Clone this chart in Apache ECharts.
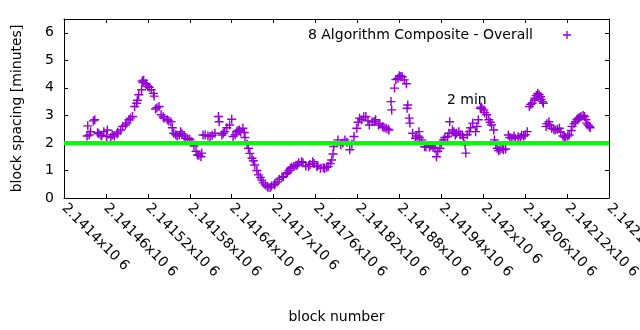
<!DOCTYPE html>
<html>
<head>
<meta charset="utf-8">
<script src="https://cdn.jsdelivr.net/npm/echarts@6/dist/echarts.min.js"></script>
<style>
  html, body { margin: 0; padding: 0; background: #fff; }
  #chart { width: 640px; height: 330px; }
</style>
</head>
<body>
<div id="chart"></div>
<script>
// Block heights and the composite block spacing (minutes) measured at each.
const blocks = [
  2141434, 2141436, 2141438, 2141442, 2141444, 2141450, 2141453, 2141457, 2141461, 2141462,
  2141467, 2141472, 2141476, 2141481, 2141484, 2141488, 2141493, 2141498, 2141501, 2141504,
  2141507, 2141511, 2141512, 2141513, 2141514, 2141517, 2141518, 2141520, 2141522, 2141525,
  2141528, 2141531, 2141536, 2141539, 2141543, 2141548, 2141553, 2141557, 2141562, 2141567,
  2141569, 2141574, 2141580, 2141586, 2141591, 2141596, 2141597, 2141599, 2141602, 2141609,
  2141616, 2141621, 2141622, 2141626, 2141630, 2141637, 2141640, 2141642, 2141647, 2141651,
  2141656, 2141659, 2141664, 2141669, 2141673, 2141678, 2141683, 2141685, 2141688, 2141692,
  2141695, 2141697, 2141702, 2141705, 2141708, 2141714, 2141720, 2141724, 2141729, 2141734,
  2141740, 2141746, 2141750, 2141756, 2141762, 2141767, 2141773, 2141778, 2141783, 2141786,
  2141792, 2141796, 2141802, 2141809, 2141815, 2141819, 2141823, 2141826, 2141832, 2141837,
  2141841, 2141846, 2141850, 2141856, 2141861, 2141865, 2141868, 2141869, 2141873, 2141875,
  2141878, 2141880, 2141882, 2141884, 2141887, 2141890, 2141891, 2141892, 2141895, 2141899,
  2141903, 2141908, 2141912, 2141916, 2141923, 2141928, 2141933, 2141938, 2141943, 2141949,
  2141952, 2141956, 2141960, 2141965, 2141970, 2141974, 2141975, 2141980, 2141985, 2141989,
  2141993, 2141996, 2141997, 2142001, 2142005, 2142008, 2142012, 2142015, 2142016, 2142020,
  2142024, 2142029, 2142036, 2142041, 2142046, 2142053, 2142058, 2142063, 2142066, 2142070,
  2142074, 2142076, 2142078, 2142082, 2142083, 2142086, 2142090, 2142094, 2142098, 2142103,
  2142109, 2142114, 2142118, 2142123, 2142127, 2142132, 2142136, 2142140, 2142145, 2142148,
  2142152,
  // in-between blocks
  2141433, 2141448, 2141454, 2141469, 2141477, 2141490, 2141495, 2141505, 2141529, 2141533,
  2141542, 2141550, 2141555, 2141560, 2141565, 2141572, 2141577, 2141583, 2141589, 2141593,
  2141606, 2141612, 2141628, 2141633, 2141645, 2141649, 2141653, 2141658, 2141662, 2141666,
  2141671, 2141676, 2141681, 2141691, 2141701, 2141712, 2141718, 2141722, 2141726, 2141732,
  2141736, 2141742, 2141752, 2141758, 2141763, 2141771, 2141776, 2141781, 2141785, 2141799,
  2141805, 2141812, 2141821, 2141829, 2141835, 2141844, 2141852, 2141858, 2141864, 2141894,
  2141905, 2141909, 2141918, 2141925, 2141931, 2141935, 2141940, 2141945, 2141951, 2141958,
  2141962, 2141967, 2141972, 2141977, 2141982, 2141991, 2141998, 2142002, 2142010, 2142018,
  2142022, 2142027, 2142032, 2142038, 2142044, 2142050, 2142055, 2142060, 2142068, 2142073,
  2142080, 2142085, 2142091, 2142095, 2142101, 2142106, 2142111, 2142116, 2142121, 2142126,
  2142130, 2142134, 2142138, 2142143, 2142147, 2142150, 2142153
];
const spacing = [
  2.62, 2.29, 2.41, 2.80, 2.84, 2.33, 2.28, 2.41, 2.23, 2.47,
  2.20, 2.25, 2.33, 2.47, 2.60, 2.65, 2.84, 2.96, 3.32, 3.44,
  3.75, 3.93, 4.25, 4.19, 4.28, 4.15, 4.12, 4.05, 4.02, 3.93,
  3.80, 3.23, 3.32, 3.02, 2.90, 2.84, 2.77, 2.35, 2.25, 2.41,
  2.33, 2.17, 2.13, 1.89, 1.56, 1.50, 1.63, 2.29, 2.29, 2.23,
  2.35, 2.96, 2.77, 2.29, 2.41, 2.65, 2.86, 2.23, 2.41, 2.47,
  2.53, 2.20, 1.81, 1.44, 1.20, 0.84, 0.65, 0.55, 0.47, 0.39,
  0.38, 0.44, 0.51, 0.58, 0.68, 0.78, 0.92, 1.08, 1.14, 1.20,
  1.32, 1.16, 1.14, 1.32, 1.14, 1.08, 1.08, 1.14, 1.38, 1.87,
  2.11, 1.93, 2.11, 1.75, 2.23, 2.53, 2.90, 2.84, 2.96, 2.65,
  2.77, 2.84, 2.65, 2.60, 2.53, 2.47, 3.50, 3.20, 3.99, 4.30,
  4.35, 4.44, 4.41, 4.40, 4.29, 4.15, 3.26, 3.38, 2.72, 2.35,
  2.17, 2.41, 2.11, 1.87, 1.84, 1.84, 1.50, 1.81, 2.11, 2.23,
  2.77, 2.47, 2.29, 2.41, 2.29, 1.93, 1.63, 2.41, 2.72, 2.41,
  2.84, 3.26, 3.30, 3.20, 3.02, 2.84, 2.65, 2.47, 2.11, 1.81,
  1.75, 1.75, 2.29, 2.17, 2.17, 2.20, 2.25, 2.41, 3.32, 3.44,
  3.62, 3.72, 3.80, 3.68, 3.58, 3.44, 2.60, 2.77, 2.53, 2.47,
  2.53, 2.25, 2.20, 2.29, 2.60, 2.77, 2.90, 2.96, 2.96, 2.72,
  2.60,
  // in-between blocks
  2.25, 2.37, 2.26, 2.30, 2.40, 2.72, 2.90, 3.55, 3.70, 3.28,
  2.95, 2.80, 2.55, 2.30, 2.28, 2.25, 2.15, 2.05, 1.70, 1.55,
  2.25, 2.28, 2.35, 2.55, 2.30, 2.45, 2.40, 2.38, 1.95, 1.62,
  1.35, 1.00, 0.75, 0.42, 0.48, 0.75, 0.88, 1.00, 1.12, 1.18,
  1.28, 1.28, 1.22, 1.25, 1.18, 1.10, 1.12, 1.25, 1.60, 2.00,
  2.02, 1.95, 2.75, 2.95, 2.80, 2.78, 2.70, 2.55, 2.50, 2.90,
  2.25, 2.20, 1.85, 1.90, 1.80, 1.70, 2.00, 2.20, 2.35, 2.40,
  2.35, 2.30, 2.20, 2.30, 2.55, 2.60, 3.25, 3.10, 2.75, 1.95,
  1.72, 1.80, 1.78, 2.20, 2.25, 2.22, 2.28, 2.30, 3.40, 3.55,
  3.75, 3.50, 2.70, 2.65, 2.50, 2.50, 2.40, 2.22, 2.25, 2.45,
  2.70, 2.85, 2.92, 3.00, 2.85, 2.65, 2.55
];

// Axis ranges and reference level
const xRange = [2141400, 2142180];
const xStep = 60;
const yRange = [0, 6.5];
const targetMinutes = 2;
const targetLabel = '2 min';
const targetLabelAt = [2141948, 3.53];
const seriesName = '8 Algorithm Composite - Overall';

const FONT = 'DejaVu Sans';
const PURPLE = '#9400d3';
const PLUS = 'path://M4.2,0h1.6v4.2h4.2v1.6h-4.2v4.2h-1.6v-4.2h-4.2v-1.6h4.2z';

const points = blocks.map((b, i) => [b, spacing[i]]);

function blockLabel(v) {
  return parseFloat((v / 1e6).toFixed(6)) + 'x10 6';
}

const chart = echarts.init(document.getElementById('chart'), null, { renderer: 'canvas' });

const axisLine = { show: true, onZero: false, lineStyle: { color: '#000', width: 1 } };
const tick = { show: true, inside: true, length: 4, lineStyle: { color: '#000', width: 1 } };

chart.setOption({
  animation: false,
  backgroundColor: '#fff',
  textStyle: { fontFamily: FONT },
  grid: { left: 64, right: 31, top: 19, bottom: 132, containLabel: false, outerBoundsMode: 'none' },
  legend: {
    data: [{ name: seriesName, icon: PLUS }],
    right: 64,
    top: 23,
    align: 'right',
    itemWidth: 8,
    itemHeight: 8,
    textStyle: { fontFamily: FONT, fontSize: 14, color: '#000', padding: [0, 25, 0, 0] },
    selectedMode: false
  },
  xAxis: [
    {
      type: 'value',
      min: xRange[0],
      max: xRange[1],
      interval: xStep,
      name: 'block number',
      nameLocation: 'middle',
      nameGap: 112,
      nameTextStyle: { fontFamily: FONT, fontSize: 14, color: '#000' },
      axisLine: axisLine,
      axisTick: tick,
      splitLine: { show: false },
      axisLabel: {
        interval: 0,
        rotate: -45,
        margin: 8,
        fontFamily: FONT,
        fontSize: 14,
        color: '#000',
        formatter: blockLabel
      }
    },
    {
      type: 'value',
      position: 'top',
      min: xRange[0],
      max: xRange[1],
      interval: xStep,
      axisLine: axisLine,
      axisTick: tick,
      splitLine: { show: false },
      axisLabel: { show: false }
    }
  ],
  yAxis: [
    {
      type: 'value',
      min: yRange[0],
      max: yRange[1],
      interval: 1,
      name: 'block spacing [minutes]',
      nameLocation: 'middle',
      nameGap: 40,
      nameTextStyle: { fontFamily: FONT, fontSize: 14, color: '#000' },
      axisLine: axisLine,
      axisTick: tick,
      splitLine: { show: false },
      axisLabel: {
        fontFamily: FONT,
        fontSize: 14,
        color: '#000',
        margin: 10,
        formatter: v => (Number.isInteger(v) ? String(v) : '')
      }
    },
    {
      type: 'value',
      position: 'right',
      min: yRange[0],
      max: yRange[1],
      interval: 1,
      axisLine: axisLine,
      axisTick: tick,
      splitLine: { show: false },
      axisLabel: { show: false }
    }
  ],
  series: [
    {
      name: seriesName,
      type: 'scatter',
      symbol: PLUS,
      symbolSize: 9,
      itemStyle: { color: PURPLE, opacity: 1 },
      data: points,
      z: 2
    },
    {
      name: 'target',
      type: 'line',
      data: [[xRange[0], targetMinutes], [xRange[1], targetMinutes]],
      symbol: 'none',
      lineStyle: { color: '#00ff00', width: 4 },
      z: 3,
      markPoint: {
        symbol: 'circle',
        symbolSize: 0,
        data: [{ coord: targetLabelAt, value: targetLabel }],
        label: {
          show: true,
          position: 'right',
          distance: 0,
          formatter: targetLabel,
          fontFamily: FONT,
          fontSize: 14,
          color: '#000'
        }
      }
    }
  ]
});
</script>
</body>
</html>
